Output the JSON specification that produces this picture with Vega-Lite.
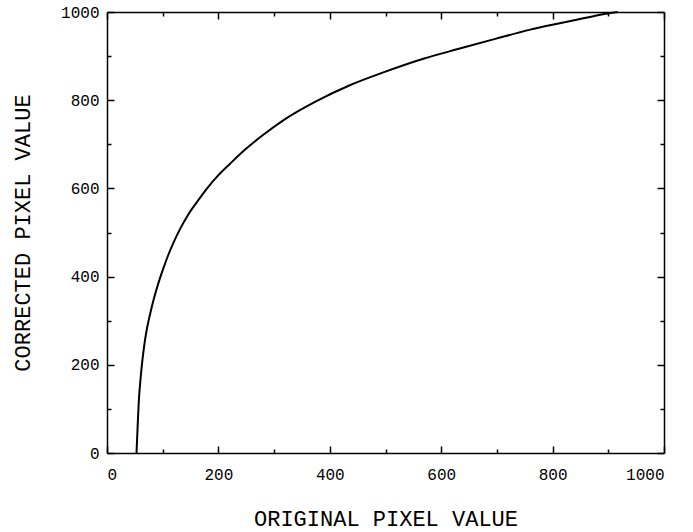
{
  "$schema": "https://vega.github.io/schema/vega-lite/v6.json",
  "width": 557,
  "height": 441,
  "autosize": {"type": "none"},
  "padding": {"left": 107, "top": 12, "right": 29, "bottom": 79},
  "background": "white",
  "config": {
    "view": {"stroke": null},
    "axis": {
      "domainColor": "black",
      "domainWidth": 1.5,
      "tickColor": "black",
      "tickWidth": 1.5,
      "labelColor": "black",
      "labelFont": "Liberation Mono",
      "labelFontSize": 16,
      "titleFont": "Liberation Mono",
      "titleFontSize": 22,
      "titleFontWeight": "normal",
      "titleColor": "black",
      "grid": false
    }
  },
  "data": {
    "values": [
      {"original": 53, "corrected": 0},
      {"original": 55, "corrected": 60},
      {"original": 57, "corrected": 115},
      {"original": 60, "corrected": 165},
      {"original": 62, "corrected": 192},
      {"original": 65, "corrected": 226},
      {"original": 68, "corrected": 254},
      {"original": 72, "corrected": 284},
      {"original": 77, "corrected": 313},
      {"original": 84, "corrected": 349},
      {"original": 92, "corrected": 384},
      {"original": 101, "corrected": 418},
      {"original": 110, "corrected": 449},
      {"original": 119, "corrected": 476},
      {"original": 132, "corrected": 510},
      {"original": 146, "corrected": 541},
      {"original": 162, "corrected": 570},
      {"original": 179, "corrected": 599},
      {"original": 200, "corrected": 630},
      {"original": 221, "corrected": 656},
      {"original": 248, "corrected": 688},
      {"original": 280, "corrected": 721},
      {"original": 317, "corrected": 755},
      {"original": 376, "corrected": 798},
      {"original": 436, "corrected": 834},
      {"original": 496, "corrected": 863},
      {"original": 568, "corrected": 894},
      {"original": 630, "corrected": 916},
      {"original": 697, "corrected": 939},
      {"original": 760, "corrected": 960},
      {"original": 795, "corrected": 970},
      {"original": 860, "corrected": 987},
      {"original": 895, "corrected": 996},
      {"original": 917, "corrected": 1000}
    ]
  },
  "layer": [
    {
      "mark": {"type": "line", "color": "black", "strokeWidth": 2, "interpolate": "monotone"},
      "encoding": {
        "x": {
          "field": "original",
          "type": "quantitative",
          "scale": {"domain": [0, 1000], "nice": false},
          "axis": {
            "orient": "bottom",
            "title": "ORIGINAL PIXEL VALUE",
            "values": [0, 100, 200, 300, 400, 500, 600, 700, 800, 900, 1000],
            "labelExpr": "datum.value % 200 === 0 ? datum.label : ''",
            "format": "d",
            "tickSize": {"condition": {"test": "datum.value % 200 === 0", "value": -7}, "value": -4},
            "labelPadding": 20,
            "titlePadding": 26
          }
        },
        "y": {
          "field": "corrected",
          "type": "quantitative",
          "scale": {"domain": [0, 1000], "nice": false},
          "axis": {
            "orient": "left",
            "title": "CORRECTED PIXEL VALUE",
            "values": [0, 100, 200, 300, 400, 500, 600, 700, 800, 900, 1000],
            "labelExpr": "datum.value % 200 === 0 ? datum.label : ''",
            "format": "d",
            "tickSize": {"condition": {"test": "datum.value % 200 === 0", "value": -7}, "value": -4},
            "labelPadding": 15,
            "titlePadding": 26
          }
        }
      }
    },
    {
      "mark": {"type": "line", "opacity": 0},
      "encoding": {
        "x": {
          "field": "original",
          "type": "quantitative",
          "scale": {"domain": [0, 1000], "nice": false},
          "axis": {
            "orient": "top",
            "title": null,
            "labels": false,
            "values": [0, 100, 200, 300, 400, 500, 600, 700, 800, 900, 1000],
            "tickSize": {"condition": {"test": "datum.value % 200 === 0", "value": -7}, "value": -4}
          }
        },
        "y": {
          "field": "corrected",
          "type": "quantitative",
          "scale": {"domain": [0, 1000], "nice": false},
          "axis": {
            "orient": "right",
            "title": null,
            "labels": false,
            "values": [0, 100, 200, 300, 400, 500, 600, 700, 800, 900, 1000],
            "tickSize": {"condition": {"test": "datum.value % 200 === 0", "value": -7}, "value": -4}
          }
        }
      }
    }
  ],
  "resolve": {"axis": {"x": "independent", "y": "independent"}}
}
